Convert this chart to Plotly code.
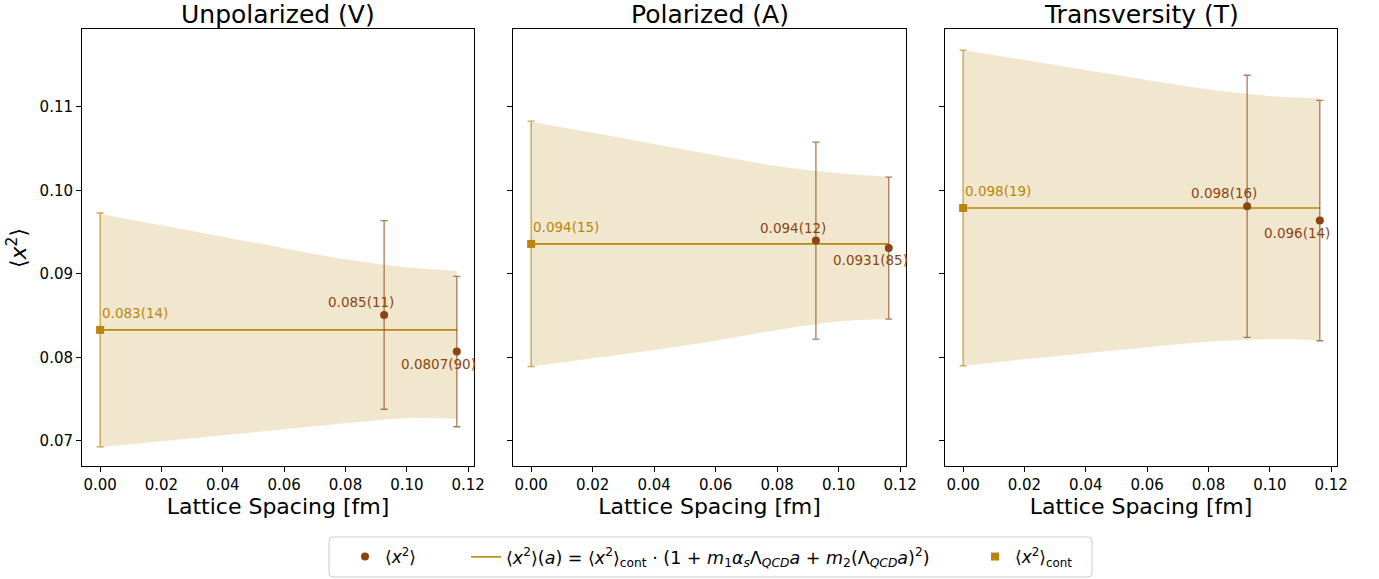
import plotly.graph_objects as go

# ---------------- data ----------------
panel_titles = ["Unpolarized (V)", "Polarized (A)", "Transversity (T)"]
lattice_a = [0.0926, 0.1163]

V_vals = [0.0851, 0.0807]
V_errs = [0.0113, 0.0090]
V_labels = ["0.085(11)", "0.0807(90)"]
V_cont = 0.0833
V_cont_err = 0.0140
V_cont_label = "0.083(14)"

A_vals = [0.0940, 0.0931]
A_errs = [0.0118, 0.0085]
A_labels = ["0.094(12)", "0.0931(85)"]
A_cont = 0.0936
A_cont_err = 0.0147
A_cont_label = "0.094(15)"

T_vals = [0.0981, 0.0964]
T_errs = [0.0157, 0.0144]
T_labels = ["0.098(16)", "0.096(14)"]
T_cont = 0.0979
T_cont_err = 0.0189
T_cont_label = "0.098(19)"

band_x = [0.0, 0.02, 0.04, 0.06, 0.08, 0.10, 0.1163]
V_band_hi = [0.09719, 0.09583, 0.09447, 0.09308, 0.09176, 0.09080, 0.09040]
V_band_lo = [0.06925, 0.06996, 0.07068, 0.07140, 0.07212, 0.07272, 0.07267]
A_band_hi = [0.10824, 0.10692, 0.10557, 0.10421, 0.10293, 0.10206, 0.10165]
A_band_lo = [0.07890, 0.07990, 0.08090, 0.08200, 0.08330, 0.08430, 0.08460]
T_band_hi = [0.11683, 0.11563, 0.11443, 0.11323, 0.11212, 0.11132, 0.11104]
T_band_lo = [0.07902, 0.07978, 0.08050, 0.08122, 0.08189, 0.08218, 0.08210]

fit_x = [0.0, 0.1163]
x_ticks = [0.00, 0.02, 0.04, 0.06, 0.08, 0.10, 0.12]
y_ticks = [0.07, 0.08, 0.09, 0.10, 0.11]

legend_names = [
    "⟨<i>x</i><sup>2</sup>⟩",
    "⟨<i>x</i><sup>2</sup>⟩(<i>a</i>) = ⟨<i>x</i><sup>2</sup>⟩<sub>cont</sub> · "
    "(1 + <i>m</i><sub>1</sub><i>α<sub>s</sub></i>Λ<sub><i>QCD</i></sub><i>a</i> + "
    "<i>m</i><sub>2</sub>(Λ<sub><i>QCD</i></sub><i>a</i>)<sup>2</sup>)",
    "⟨<i>x</i><sup>2</sup>⟩<sub>cont</sub>",
]

# ---------------- styles ----------------
W, H = 1379, 579
FONT = "DejaVu Sans"
BROWN = "#8B4513"
BROWN_ERR = "rgba(139,69,19,0.7)"
GOLD = "#B8860B"
GOLD_ERR = "rgba(184,134,11,0.75)"
BAND = "rgba(184,134,11,0.2)"

x_domains = [[82 / W, 474 / W], [513 / W, 906 / W], [945 / W, 1337 / W]]
y_domain = [1 - 466 / H, 1 - 29 / H]

panels = [
    (V_vals, V_errs, V_labels, V_cont, V_cont_err, V_cont_label, V_band_hi, V_band_lo),
    (A_vals, A_errs, A_labels, A_cont, A_cont_err, A_cont_label, A_band_hi, A_band_lo),
    (T_vals, T_errs, T_labels, T_cont, T_cont_err, T_cont_label, T_band_hi, T_band_lo),
]

fig = go.Figure()
annotations = []
layout_axes = {}

for i, (vals, errs, labels, cont, cont_err, cont_label, hi, lo) in enumerate(panels):
    xa = "x" if i == 0 else f"x{i+1}"
    ya = "y" if i == 0 else f"y{i+1}"
    first = i == 0
    # band
    fig.add_trace(go.Scatter(x=band_x, y=lo, mode="lines", line=dict(width=0, shape="spline", color=BAND),
                             showlegend=False, hoverinfo="skip", xaxis=xa, yaxis=ya))
    fig.add_trace(go.Scatter(x=band_x, y=hi, mode="lines", line=dict(width=0, shape="spline", color=BAND),
                             fill="tonexty", fillcolor=BAND, showlegend=False, hoverinfo="skip",
                             xaxis=xa, yaxis=ya))
    # fit line
    fig.add_trace(go.Scatter(x=fit_x, y=[cont, cont], mode="lines", line=dict(color=GOLD, width=1.6),
                             name=legend_names[1], legend="legend2", showlegend=first,
                             xaxis=xa, yaxis=ya))
    # data points
    fig.add_trace(go.Scatter(x=lattice_a, y=vals, mode="markers",
                             marker=dict(color=BROWN, size=8, symbol="circle"),
                             error_y=dict(type="data", array=errs, color=BROWN_ERR, thickness=1.3, width=3.5),
                             name=legend_names[0], legend="legend", showlegend=first,
                             xaxis=xa, yaxis=ya))
    # continuum
    fig.add_trace(go.Scatter(x=[0.0], y=[cont], mode="markers",
                             marker=dict(color=GOLD, size=8, symbol="square"),
                             error_y=dict(type="data", array=[cont_err], color=GOLD_ERR, thickness=1.3, width=3.5),
                             name=legend_names[2], legend="legend3", showlegend=first,
                             xaxis=xa, yaxis=ya))
    # value labels
    for ax_, v, lab in zip(lattice_a, vals, labels):
        up = v >= cont
        annotations.append(dict(x=ax_, y=v, xref=xa, yref=ya, text=lab, showarrow=False,
                                xanchor="left", yanchor="middle", xshift=-58, yshift=13 if up else -12,
                                font=dict(family=FONT, size=13.5, color=BROWN)))
    annotations.append(dict(x=0.0, y=cont, xref=xa, yref=ya, text=cont_label, showarrow=False,
                            xanchor="left", yanchor="middle", xshift=0, yshift=17,
                            font=dict(family=FONT, size=13.5, color=GOLD)))
    # panel title
    annotations.append(dict(x=sum(x_domains[i]) / 2, y=1 - 15 / H, xref="paper", yref="paper",
                            text=panel_titles[i], showarrow=False, xanchor="center", yanchor="middle",
                            font=dict(family=FONT, size=25, color="black")))

    axis_common = dict(showline=True, linecolor="black", linewidth=1, mirror=True, ticks="outside",
                       ticklen=5, tickwidth=1, tickcolor="black", showgrid=False, zeroline=False,
                       automargin=False,
                       tickfont=dict(family=FONT, size=15, color="black"))
    xkey = "xaxis" if i == 0 else f"xaxis{i+1}"
    ykey = "yaxis" if i == 0 else f"yaxis{i+1}"
    layout_axes[xkey] = dict(domain=x_domains[i], range=[-0.0059, 0.1219], tickvals=x_ticks, tickformat=".2f",
                             anchor=ya, title=dict(text="Lattice Spacing [fm]", standoff=0,
                                                   font=dict(family=FONT, size=22, color="black")),
                             **axis_common)
    layout_axes[ykey] = dict(domain=y_domain, range=[0.0670, 0.11934], tickvals=y_ticks, tickformat=".2f",
                             anchor=xa, showticklabels=first, **axis_common)

annotations.append(dict(x=17 / W, y=1 - 248 / H, xref="paper", yref="paper",
                        text="⟨<i>x</i><sup>2</sup>⟩", textangle=-90, showarrow=False,
                        xanchor="center", yanchor="middle",
                        font=dict(family=FONT, size=22, color="black")))

# legend frame (rounded box)
x0, x1 = 329 / W, 1092 / W
y0, y1 = 1 - 577 / H, 1 - 537 / H
rx, ry = 4 / W, 4 / H
frame_path = (f"M {x0+rx},{y0} L {x1-rx},{y0} Q {x1},{y0} {x1},{y0+ry} L {x1},{y1-ry} "
              f"Q {x1},{y1} {x1-rx},{y1} L {x0+rx},{y1} Q {x0},{y1} {x0},{y1-ry} "
              f"L {x0},{y0+ry} Q {x0},{y0} {x0+rx},{y0} Z")

leg_common = dict(orientation="h", yanchor="middle", y=1 - 557 / H, xanchor="left",
                  bgcolor="rgba(0,0,0,0)", borderwidth=0, itemsizing="trace")

fig.update_layout(
    template="none",
    width=W, height=H, autosize=False,
    margin=dict(l=0, r=0, t=0, b=0, pad=0),
    paper_bgcolor="white", plot_bgcolor="white",
    annotations=annotations,
    shapes=[dict(type="path", path=frame_path, xref="paper", yref="paper",
                 line=dict(color="#cccccc", width=1), fillcolor="rgba(0,0,0,0)")],
    showlegend=True,
    legend=dict(x=345 / W, font=dict(family=FONT, size=17, color="black"), **leg_common),
    legend2=dict(x=466 / W, font=dict(family=FONT, size=17.5, color="black"), **leg_common),
    legend3=dict(x=975 / W, font=dict(family=FONT, size=17, color="black"), **leg_common),
    **layout_axes,
)

fig.write_html("out.html")
